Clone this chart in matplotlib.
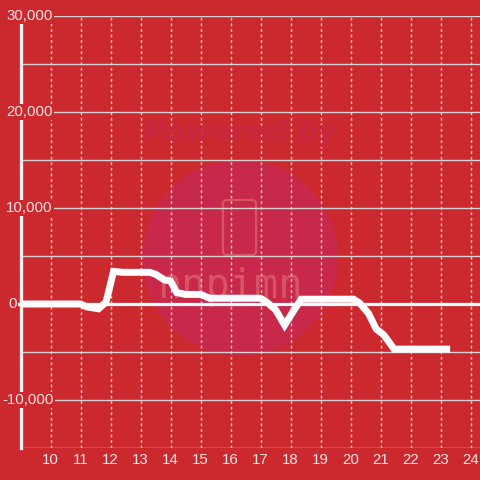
import matplotlib
matplotlib.use('Agg')
from matplotlib import pyplot as plt
from matplotlib.patches import Circle, FancyBboxPatch
from matplotlib.transforms import blended_transform_factory

hours = [9.0, 11.0, 11.2, 11.6, 11.85, 12.1, 12.4, 13.3, 13.5, 13.8, 14.0,
	14.2, 14.5, 15.0, 15.3, 17.0, 17.2, 17.5, 17.8, 18.1, 18.35, 20.1, 20.3,
	20.6, 20.85, 21.1, 21.45, 23.2]
values = [0, 0, -300, -500, 200, 3400, 3300, 3300, 3100, 2500, 2400,
	1200, 1000, 1000, 600, 600, 200, -600, -2200, -700, 500, 500, 100,
	-1000, -2600, -3200, -4700, -4700]

x_ticks = list(range(10, 25))
y_ticks = [-10000, 0, 10000, 20000, 30000]
y_grid = list(range(-15000, 30001, 5000))

bg = '#cc292e'
fg = '#f2e4e4'
grid_col = '#d4d4d4'
font = 'Liberation Sans'

fig = plt.figure(figsize=(4.8, 4.8), dpi=100, facecolor=bg)
ax = fig.add_axes([20.5 / 480, 32 / 480, 1 - 20.5 / 480, 432 / 480])
ax.set_facecolor(bg)
ax.set_xlim(9.0, 24.31)
ax.set_ylim(-15000, 30000)
for s in ax.spines.values():
	s.set_visible(False)
ax.set_xticks([])
ax.set_yticks([])

# watermark (pixel positions on a square figure)
W = 480.0
ax.add_patch(Circle((240 / W, 1 - 258 / W), 98 / W, transform=fig.transFigure,
	facecolor='#c8284a', edgecolor='none', zorder=0))
fig.text(241 / W, 1 - 133 / W, 'Powered by', ha='center', va='center',
	fontsize=21, fontweight='bold', style='italic', color='#c8283f',
	family='DejaVu Sans', zorder=0)
ax.add_patch(FancyBboxPatch((223 / W, 1 - 255 / W), 33 / W, 55 / W,
	boxstyle='round,pad=0,rounding_size=0.008', transform=fig.transFigure,
	facecolor='none', edgecolor='#d65563', lw=1.6, zorder=0))
ax.text(230 / W, 1 - 287 / W, 'nnpimn', transform=fig.transFigure,
	ha='center', va='center', fontsize=29, family='DejaVu Sans Mono',
	color='#d65563', zorder=0)

for yv in y_grid:
	if yv != 0:
		ax.axhline(yv, color=grid_col, lw=1, zorder=1)
for xv in x_ticks:
	ax.plot([xv, xv], [-15000, 30000], color=grid_col, lw=1,
		dashes=(2, 2), zorder=1)
ax.plot([8.85, 24.31], [0, 0], color='white', lw=2.3, zorder=2,
	clip_on=False)
ax.plot([9.0, 9.0], [-15000, 29200], color='#f4f0f0', lw=2.4, zorder=2,
	clip_on=False)

ax.plot(hours, values, color='white', lw=5, solid_joinstyle='miter',
	zorder=3)

lab_tr = blended_transform_factory(fig.transFigure, ax.transData)
for yv in y_ticks:
	px = 2 if yv < 0 else (8 if yv == 0 else 6)
	ax.text(px / W, yv, '{:,}'.format(yv), transform=lab_tr, ha='left',
		va='center', fontsize=10.8, color=fg, family=font, zorder=4,
		bbox=dict(facecolor=bg, edgecolor='none', pad=1))
for xv in x_ticks:
	ax.text(xv, -16200, str(xv), ha='center', va='center', fontsize=10.8,
		color=fg, family=font, clip_on=False)

fig.savefig('out.png', dpi=100, facecolor=bg)
